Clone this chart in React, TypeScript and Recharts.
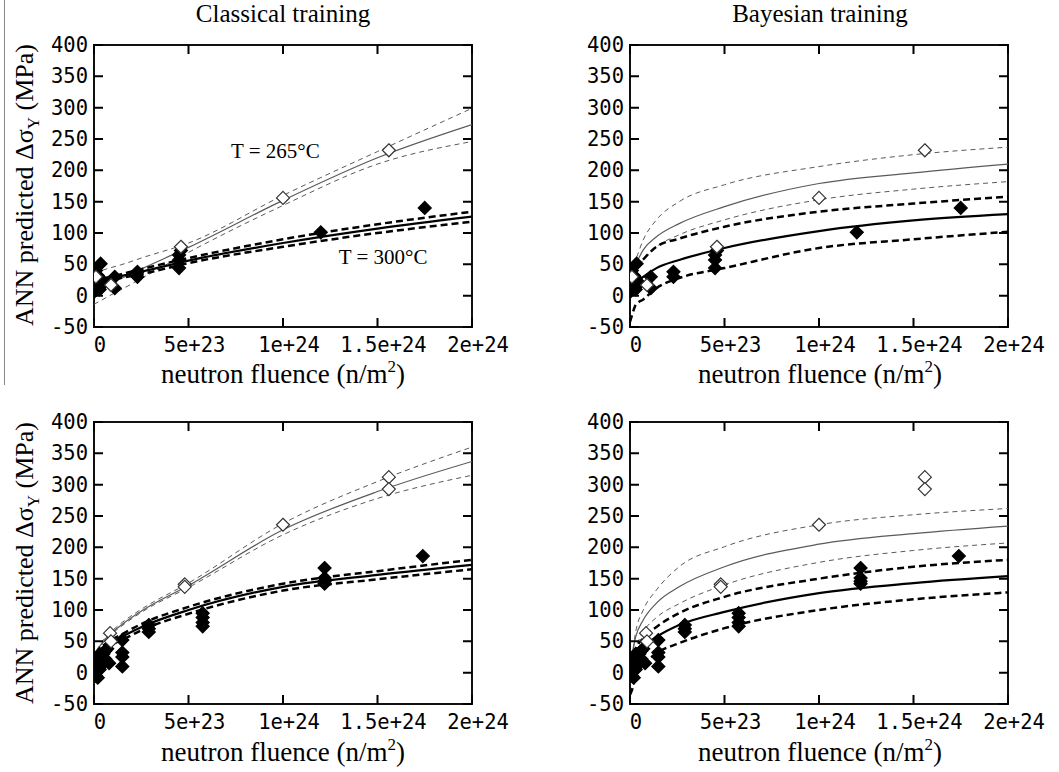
import { ComposedChart, Line, Scatter, XAxis, YAxis, ReferenceDot } from "recharts";

// shared abscissa for every fitted curve (n/m^2)
const FLUENCE = [0, 1e22, 3e22, 7e22, 1.4e23, 2.6e23, 5e23, 1e24, 1.5e24, 2e24];

const X_TICKS = [0, 5e23, 1e24, 1.5e24, 2e24];
const X_TICK_LABELS = ["0", "5e+23", "1e+24", "1.5e+24", "2e+24"];
const Y_TICKS = [-50, 0, 50, 100, 150, 200, 250, 300, 350, 400];

// classical training, first data set
const CL1_265_HI = [36, 37, 39, 43, 49, 61, 84, 160, 230, 299];
const CL1_265 = [8, 9, 12, 18, 27, 44, 77, 152, 220, 273];
const CL1_265_LO = [-14, -12, -9, -2, 9, 29, 69, 144, 210, 246];
const CL1_300_HI = [23, 24, 26, 29, 34, 43, 60, 90, 114, 134];
const CL1_300 = [20, 21, 23, 26, 31, 39, 56, 84, 107, 126];
const CL1_300_LO = [17, 18, 20, 23, 28, 35, 52, 78, 100, 118];

// bayesian training, first data set
const BY1_265_HI = [35, 42, 57, 89, 121, 150, 177, 206, 225, 237];
const BY1_265 = [30, 38, 50, 73, 94, 115, 142, 179, 196, 210];
const BY1_265_LO = [25, 32, 42, 57, 78, 97, 121, 153, 170, 182];
const BY1_300_HI = [30, 38, 45, 58, 78, 91, 110, 134, 147, 158];
const BY1_300 = [5, 12, 20, 30, 44, 57, 76, 103, 120, 130];
const BY1_300_LO = [-42, -32, -15, -6, 12, 28, 44, 76, 90, 102];

// classical training, second data set
const CL2_265_HI = [22, 32, 44, 59, 78, 103, 143, 238, 305, 360];
const CL2_265 = [20, 30, 42, 57, 75, 100, 139, 228, 289, 337];
const CL2_265_LO = [18, 28, 40, 55, 73, 98, 136, 220, 278, 315];
const CL2_300_HI = [12, 25, 37, 48, 60, 79, 105, 142, 162, 180];
const CL2_300 = [10, 22, 34, 45, 56, 74, 100, 137, 156, 172];
const CL2_300_LO = [8, 19, 30, 41, 51, 69, 94, 131, 149, 165];

// bayesian training, second data set
const BY2_265_HI = [10, 26, 65, 100, 132, 169, 201, 236, 252, 262];
const BY2_265 = [10, 26, 57, 84, 111, 137, 169, 205, 222, 234];
const BY2_265_LO = [5, 22, 40, 65, 88, 110, 140, 176, 195, 207];
const BY2_300_HI = [-5, 8, 36, 55, 73, 95, 121, 150, 169, 180];
const BY2_300 = [5, 15, 28, 41, 57, 76, 97, 127, 143, 154];
const BY2_300_LO = [-35, -28, -5, 12, 31, 47, 71, 100, 117, 128];

// measured points [fluence, delta sigma]
const SET1_265: [number, number][] = [
  [1e22, 30], [9e22, 17], [4.6e23, 78], [1e24, 156], [1.56e24, 232],
];
const SET1_300: [number, number][] = [
  [0, 6], [0, 12], [0, 18], [0, 25], [0, 30], [0, 35], [1e22, 40], [1e22, 22],
  [2e22, 32], [2e22, 15], [3e22, 28], [3e22, 10], [3.5e22, 51], [5e22, 20],
  [1.1e23, 30], [1.1e23, 12], [2.3e23, 38], [2.3e23, 30], [4.5e23, 44],
  [4.5e23, 57], [4.5e23, 65], [4.6e23, 72], [1.2e24, 101], [1.75e24, 140],
];
const SET2_265: [number, number][] = [
  [8.5e22, 63], [9e22, 50], [4.8e23, 141], [4.8e23, 137], [1e24, 236],
  [1.56e24, 312], [1.56e24, 293],
];
const SET2_300: [number, number][] = [
  [0, 0], [0, 10], [1e22, -5], [2e22, -8], [1e22, 3], [1e22, 20], [2e22, 10],
  [3e22, 15], [3e22, 5], [3e22, 30], [4e22, 20], [4e22, 25], [5e22, 30],
  [5e22, 15], [6e22, 35], [6e22, 22], [7e22, 38], [8e22, 15], [1.5e23, 52],
  [1.5e23, 32], [1.5e23, 25], [1.5e23, 10], [2.9e23, 76], [2.9e23, 70],
  [2.9e23, 65], [5.75e23, 95], [5.75e23, 88], [5.75e23, 80], [5.75e23, 74],
  [1.22e24, 167], [1.22e24, 151], [1.22e24, 146], [1.22e24, 142], [1.74e24, 186],
];

const SERIF = '"Liberation Serif", "Times New Roman", serif';
const MONO = '"DejaVu Sans Mono", monospace';

const PANEL_W = 530;
const PANEL_H = 385;
const PLOT_LEFT = 94;
const PLOT_TOP = 45;
const PLOT_W = 378;
const PLOT_H = 282;
const TICK_LEN = 9;

const toCurve = (ys: number[]) => FLUENCE.map((x, i) => ({ x, y: ys[i] }));
const toPoints = (pts: [number, number][]) => pts.map(([x, y]) => ({ x, y }));

const GRAY = "#5a5a5a";

const Diamond = (props: any) => {
  const { cx, cy, filled } = props;
  const r = 6.5;
  return (
    <path
      d={`M${cx},${cy - r}L${cx + r},${cy}L${cx},${cy + r}L${cx - r},${cy}Z`}
      fill={filled ? "#000" : "#fff"}
      stroke={filled ? "#000" : "#333"}
      strokeWidth={1.2}
    />
  );
};

// x labels under the frame, with inward marks at the bottom and top edges
const BottomTick = (props: any) => {
  const { x, payload } = props;
  const i = X_TICKS.indexOf(payload.value);
  const base = PLOT_TOP + PLOT_H;
  return (
    <g>
      <path
        d={`M${x},${base}V${base - TICK_LEN}M${x},${PLOT_TOP}V${PLOT_TOP + TICK_LEN}`}
        stroke="#000"
        strokeWidth={2}
        fill="none"
      />
      <text x={x + 6} y={base + 25} textAnchor="middle" fontFamily={MONO} fontSize={20.5} fill="#000">
        {X_TICK_LABELS[i]}
      </text>
    </g>
  );
};

// y labels left of the frame, with inward marks at the left and right edges
const LeftTick = (props: any) => {
  const { y, payload } = props;
  const right = PLOT_LEFT + PLOT_W;
  return (
    <g>
      <path
        d={`M${PLOT_LEFT},${y}H${PLOT_LEFT + TICK_LEN}M${right},${y}H${right - TICK_LEN}`}
        stroke="#000"
        strokeWidth={2}
        fill="none"
      />
      <text x={PLOT_LEFT - 6} y={y + 7} textAnchor="end" fontFamily={MONO} fontSize={20.5} fill="#000">
        {payload.value}
      </text>
    </g>
  );
};

type PanelProps = {
  left: number;
  top: number;
  c265: [number[], number[], number[]];
  c300: [number[], number[], number[]];
  open: [number, number][];
  filled: [number, number][];
  notes?: boolean;
};

const Panel = ({ left, top, c265, c300, open, filled, notes }: PanelProps) => {
  const [hi265, mid265, lo265] = c265;
  const [hi300, mid300, lo300] = c300;
  return (
    <div style={{ position: "absolute", left, top, width: PANEL_W, height: PANEL_H }}>
      {/* plot frame: a dark box with a white inset, sitting behind the transparent svg */}
      <div style={{ position: "absolute", left: PLOT_LEFT - 1, top: PLOT_TOP - 1, width: PLOT_W + 2, height: PLOT_H + 2, background: "#111" }}>
        <div style={{ position: "absolute", left: 2, top: 2, right: 2, bottom: 2, background: "#fff" }} />
      </div>
      <div style={{ position: "absolute", left: 0, top: 0 }}>
        <ComposedChart
          width={PANEL_W}
          height={PANEL_H}
          margin={{ top: PLOT_TOP, right: PANEL_W - PLOT_LEFT - PLOT_W, bottom: 0, left: 0 }}
        >
          <XAxis
            dataKey="x"
            type="number"
            domain={[0, 2e24]}
            ticks={X_TICKS}
            height={PANEL_H - PLOT_TOP - PLOT_H}
            tickSize={0}
            tickMargin={0}
            tick={<BottomTick />}
            axisLine={false}
            allowDataOverflow
          />
          <YAxis
            type="number"
            domain={[-50, 400]}
            ticks={Y_TICKS}
            width={PLOT_LEFT}
            tickSize={0}
            tickMargin={0}
            tick={<LeftTick />}
            axisLine={false}
            allowDataOverflow
          />

          {/* T = 265 C fit with bounds */}
          <Line data={toCurve(hi265)} dataKey="y" type="monotone" stroke={GRAY} strokeWidth={1} strokeDasharray="5 4" dot={false} isAnimationActive={false} />
          <Line data={toCurve(mid265)} dataKey="y" type="monotone" stroke={GRAY} strokeWidth={1.2} dot={false} isAnimationActive={false} />
          <Line data={toCurve(lo265)} dataKey="y" type="monotone" stroke={GRAY} strokeWidth={1} strokeDasharray="5 4" dot={false} isAnimationActive={false} />

          {/* T = 300 C fit with bounds */}
          <Line data={toCurve(hi300)} dataKey="y" type="monotone" stroke="#000" strokeWidth={2.5} strokeDasharray="7 4" dot={false} isAnimationActive={false} />
          <Line data={toCurve(mid300)} dataKey="y" type="monotone" stroke="#000" strokeWidth={2.2} dot={false} isAnimationActive={false} />
          <Line data={toCurve(lo300)} dataKey="y" type="monotone" stroke="#000" strokeWidth={2.5} strokeDasharray="7 4" dot={false} isAnimationActive={false} />

          <Scatter data={toPoints(filled)} dataKey="y" shape={<Diamond filled />} isAnimationActive={false} />
          <Scatter data={toPoints(open)} dataKey="y" shape={<Diamond />} isAnimationActive={false} />

          {notes && (
            <ReferenceDot x={0.96e24} y={232} r={0} fill="none" stroke="none"
              label={{ value: "T = 265°C", position: "center", fontFamily: SERIF, fontSize: 21, fill: "#000" }} />
          )}
          {notes && (
            <ReferenceDot x={1.53e24} y={63} r={0} fill="none" stroke="none"
              label={{ value: "T = 300°C", position: "center", fontFamily: SERIF, fontSize: 21, fill: "#000" }} />
          )}
        </ComposedChart>
      </div>
    </div>
  );
};

const XTitle = ({ cx, top }: { cx: number; top: number }) => (
  <div style={{ position: "absolute", left: cx - 160, top, width: 320, height: 30, lineHeight: "30px", textAlign: "center", fontFamily: SERIF, fontSize: 27, color: "#000", whiteSpace: "nowrap" }}>
    neutron fluence (n/m<span style={{ fontSize: 17, position: "relative", top: -11 }}>2</span>)
  </div>
);

const YTitle = ({ cy }: { cy: number }) => (
  <div style={{ position: "absolute", left: 25 - 170, top: cy - 15, width: 340, height: 30, lineHeight: "30px", textAlign: "center", fontFamily: SERIF, fontSize: 26, color: "#000", whiteSpace: "nowrap", transform: "rotate(-90deg)" }}>
    ANN predicted Δσ<span style={{ fontSize: 17, position: "relative", top: 6 }}>Y</span> (MPa)
  </div>
);

const Title = ({ cx, text }: { cx: number; text: string }) => (
  <div style={{ position: "absolute", left: cx - 150, top: 0, width: 300, height: 28, lineHeight: "28px", textAlign: "center", fontFamily: SERIF, fontSize: 25, color: "#000" }}>
    {text}
  </div>
);

export default function App() {
  return (
    <div style={{ position: "absolute", left: 0, top: 0, width: 1059, height: 772, background: "#fff", overflow: "hidden" }}>
      <div style={{ position: "absolute", left: 4, top: 0, width: 1, height: 385, background: "#888" }} />
      <Title cx={283} text="Classical training" />
      <Title cx={820} text="Bayesian training" />

      <Panel left={0} top={0} c265={[CL1_265_HI, CL1_265, CL1_265_LO]} c300={[CL1_300_HI, CL1_300, CL1_300_LO]} open={SET1_265} filled={SET1_300} notes />
      <Panel left={536} top={0} c265={[BY1_265_HI, BY1_265, BY1_265_LO]} c300={[BY1_300_HI, BY1_300, BY1_300_LO]} open={SET1_265} filled={SET1_300} />
      <Panel left={0} top={377} c265={[CL2_265_HI, CL2_265, CL2_265_LO]} c300={[CL2_300_HI, CL2_300, CL2_300_LO]} open={SET2_265} filled={SET2_300} />
      <Panel left={536} top={377} c265={[BY2_265_HI, BY2_265, BY2_265_LO]} c300={[BY2_300_HI, BY2_300, BY2_300_LO]} open={SET2_265} filled={SET2_300} />

      <YTitle cy={185} />
      <YTitle cy={563} />
      <XTitle cx={283} top={359} />
      <XTitle cx={820} top={359} />
      <XTitle cx={283} top={737} />
      <XTitle cx={820} top={737} />
    </div>
  );
}
